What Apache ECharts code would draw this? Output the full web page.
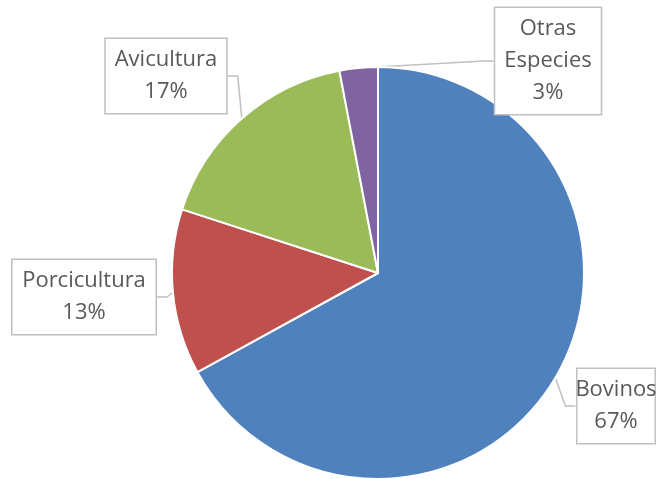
<!DOCTYPE html>
<html>
<head>
<meta charset="utf-8">
<script src="https://cdn.jsdelivr.net/npm/echarts@6/dist/echarts.min.js"></script>
<style>
  html, body { margin: 0; padding: 0; background: #fff; }
  #chart { width: 666px; height: 479px; }
</style>
</head>
<body>
<div id="chart"></div>
<script>
const categories = ['Bovinos', 'Porcicultura', 'Avicultura', 'Otras\nEspecies'];
const shares = [67, 13, 17, 3];
const sliceColors = ['#4F81BD', '#C0504D', '#9BBB59', '#8064A2'];

// where the callout boxes sit (centre of each box)
const boxSpots = [[616, 406], [84, 297], [166, 76], [548, 61]];

let chartDom = document.getElementById('chart');
let myChart = echarts.init(chartDom);

let pieData = [];
for (let i = 0; i < categories.length; i++) {
  pieData.push({
    name: categories[i],
    value: shares[i],
    itemStyle: { color: sliceColors[i] }
  });
}

let option = {
  animation: false,
  series: [
    {
      type: 'pie',
      center: [378, 273],
      radius: [0, 206],
      startAngle: 90,
      clockwise: true,
      data: pieData,
      itemStyle: {
        borderColor: '#fff',
        borderWidth: 2
      },
      label: {
        show: true,
        position: 'outside',
        overflow: 'none',
        formatter: function (p) {
          return p.name + '\n' + Math.round(p.percent) + '%';
        },
        fontFamily: 'Open Sans',
        fontSize: 22,
        lineHeight: 32,
        color: '#595959',
        align: 'center',
        backgroundColor: '#fff',
        borderColor: '#c0c0c0',
        borderWidth: 1.5,
        padding: [5, 9]
      },
      labelLine: {
        show: true,
        length: 10,
        length2: 10,
        lineStyle: { color: '#c0c0c0', width: 1.5 }
      },
      labelLayout: function (params) {
        let spot = boxSpots[params.dataIndex];
        return {
          x: spot[0],
          y: spot[1],
          align: 'center',
          verticalAlign: 'middle'
        };
      }
    }
  ]
};
myChart.setOption(option);
</script>
</body>
</html>
